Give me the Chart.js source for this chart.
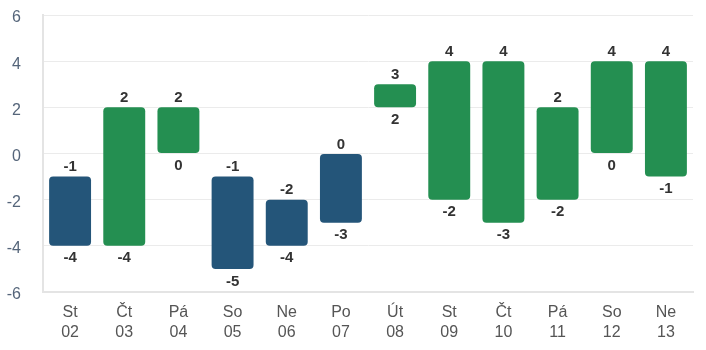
<!DOCTYPE html>
<html>
<head>
<meta charset="utf-8">
<script src="https://cdn.jsdelivr.net/npm/chart.js@4/dist/chart.umd.min.js"></script>
<style>
  html, body { margin: 0; padding: 0; background: #fff; }
  #wrap { width: 706px; height: 350px; }
</style>
</head>
<body>
<div id="wrap"><canvas id="tempChart"></canvas></div>
<script>
  const days = ['St', 'Čt', 'Pá', 'So', 'Ne', 'Po', 'Út', 'St', 'Čt', 'Pá', 'So', 'Ne'];
  const dates = ['02', '03', '04', '05', '06', '07', '08', '09', '10', '11', '12', '13'];
  const lows = [-4, -4, 0, -5, -4, -3, 2, -2, -3, -2, 0, -1];
  const highs = [-1, 2, 2, -1, -2, 0, 3, 4, 4, 2, 4, 4];
  const yTicks = [-6, -4, -2, 0, 2, 4, 6];

  const blue = '#245579';
  const green = '#248f51';
  const fontFam = '"Liberation Sans", Arial, sans-serif';

  // draws the low / high number under and over each bar
  const rangeLabels = {
    id: 'rangeLabels',
    afterDatasetsDraw(chart) {
      const ctx = chart.ctx;
      const meta = chart.getDatasetMeta(0);
      ctx.save();
      ctx.font = 'bold 15px ' + fontFam;
      ctx.fillStyle = '#333';
      ctx.textAlign = 'center';
      meta.data.forEach((bar, i) => {
        const p = bar.getProps(['x', 'y', 'base'], true);
        const top = Math.min(p.y, p.base);
        const bottom = Math.max(p.y, p.base);
        ctx.textBaseline = 'bottom';
        ctx.fillText(String(highs[i]), p.x, top - 2);
        ctx.textBaseline = 'top';
        ctx.fillText(String(lows[i]), p.x, bottom + 5);
      });
      ctx.restore();
    }
  };

  new Chart(document.getElementById('tempChart').getContext('2d'), {
    type: 'bar',
    data: {
      labels: days.map((d, i) => [d, dates[i]]),
      datasets: [{
        data: lows.map((lo, i) => [lo, highs[i]]),
        backgroundColor: highs.map(h => h > 0 ? green : blue),
        borderRadius: 4,
        borderSkipped: false,
        categoryPercentage: 0.9,
        barPercentage: 0.86
      }]
    },
    options: {
      responsive: true,
      maintainAspectRatio: false,
      animation: false,
      layout: { padding: { top: 15, right: 13, left: 0, bottom: 0 } },
      plugins: {
        legend: { display: false },
        tooltip: { enabled: false }
      },
      scales: {
        x: {
          afterFit(axis) { axis.height = 58; },
          grid: { display: false, drawTicks: false },
          border: { display: true, color: '#e4e4e4', width: 2 },
          ticks: {
            color: '#555',
            padding: 11,
            font: { family: fontFam, size: 16, lineHeight: '20px' }
          }
        },
        y: {
          min: -6,
          max: 6,
          afterFit(axis) {
            axis.width = 43;
            axis.paddingTop = 0;
            axis.paddingBottom = 0;
          },
          afterBuildTicks(axis) {
            axis.ticks = yTicks.map(v => ({ value: v }));
          },
          grid: { color: '#ebebeb', drawTicks: false },
          border: { display: true, color: '#e4e4e4', width: 2 },
          ticks: {
            color: '#55657a',
            padding: 22,
            labelOffset: 3,
            font: { family: fontFam, size: 16 }
          }
        }
      }
    },
    plugins: [rangeLabels]
  });
</script>
</body>
</html>
